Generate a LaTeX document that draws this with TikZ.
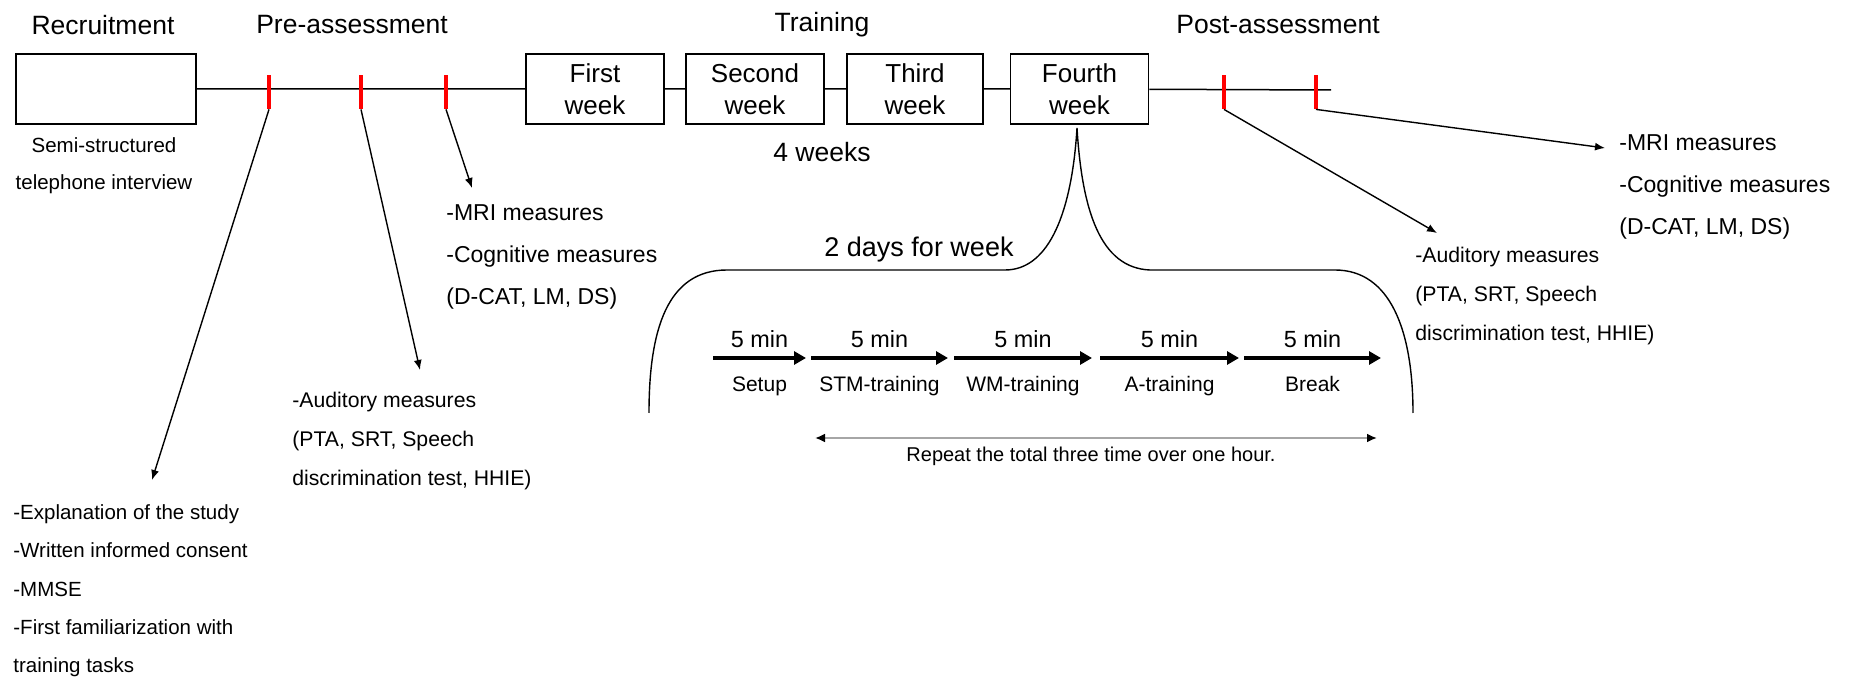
\documentclass[tikz,border=0pt]{standalone}
\usepackage{fontspec}
\setmainfont{Liberation Sans}
\usetikzlibrary{arrows.meta, positioning}

\begin{document}
\begin{tikzpicture}[x=0.5pt, y=-0.5pt,
  head/.style={font=\fontsize{13.25}{16}\selectfont},
  week/.style={draw,line width=0.75pt,minimum width=69pt,minimum height=35pt,
              align=center,inner sep=0pt,font=\fontsize{13}{16}\selectfont},
  tick/.style={fill=red,inner sep=0pt,minimum width=2pt,minimum height=17pt},
  txt/.style={align=left,anchor=north west,inner sep=0pt},
  arr/.style={-{Latex[length=5pt,width=4pt]},line width=0.7pt},
  steparr/.style={-{Triangle[length=6pt,width=6.5pt]},line width=2pt}
]
\useasboundingbox (0,0) rectangle (1854,678);
% phases
\node[head] (rec)  at (103,25)  {Recruitment};
\node[head] (pre)  at (352,25)  {Pre-assessment};
\node[head] (trn)  at (822,25)  {Training};
\node[head] (post) at (1278,25) {Post-assessment};
% time line
\node[week,minimum width=90pt] (rbox) at (106,89) {};
\node[week] (w1) at (595,89)    {First\\week};
\node[week] (w2) at (755,89)    {Second\\week};
\node[week,minimum width=68pt] (w3) at (915,89) {Third\\week};
\node[week] (w4) at (1079.5,89) {Fourth\\week};
\coordinate (lend) at (1331,90);
\draw[line width=0.75pt] (rbox)--(w1) (w1)--(w2) (w2)--(w3) (w3)--(w4) (w4)--(lend);
\foreach \x/\n in {269/t1,361/t2,446/t3,1224/t4,1316/t5}
  \node[tick] (\n) at (\x,92) {};
\node[head] (four) at (822,152) {4 weeks};
\node[align=center,anchor=north,inner sep=0pt,font=\fontsize{10.25}{18.5}\selectfont]
  (semi) at (104,137) {Semi-structured\\telephone interview};
% measures
\node[txt,font=\fontsize{10.25}{19.2}\selectfont] (expl) at (13,504)
  {-Explanation of the study\\-Written informed consent\\-MMSE\\-First familiarization with\\training tasks};
\node[txt,font=\fontsize{10.6}{19.5}\selectfont] (aud1) at (292,392)
  {-Auditory measures\\(PTA, SRT, Speech\\discrimination test, HHIE)};
\node[txt,font=\fontsize{11.5}{21}\selectfont] (mri1) at (446,204)
  {-MRI measures\\-Cognitive measures\\(D-CAT, LM, DS)};
\node[txt,font=\fontsize{10.6}{19.5}\selectfont] (aud2) at (1415,247)
  {-Auditory measures\\(PTA, SRT, Speech\\discrimination test, HHIE)};
\node[txt,font=\fontsize{11.5}{21}\selectfont] (mri2) at (1619,134)
  {-MRI measures\\-Cognitive measures\\(D-CAT, LM, DS)};
\coordinate (e1) at (152,480);
\coordinate (e2) at (420,370);
\coordinate (e3) at (472,188);
\coordinate (e4) at (1437,233);
\coordinate (e5) at (1605,148);
\draw[arr] (t1.south)--(e1);
\draw[arr] (t2.south)--(e2);
\draw[arr] (t3.south)--(e3);
\draw[arr] (t4.south)--(e4);
\draw[arr] (t5.south)--(e5);
% one training day
\coordinate (cusp) at (1077,128);
\draw[line width=0.7pt] (649,413) .. controls (649,330) and (667,270) .. (727,270) -- (1005,270)
  .. controls (1050,270) and (1072,210) .. (cusp)
  .. controls (1082,210) and (1100,268) .. (1150,270) -- (1335,270)
  .. controls (1390,270) and (1413,330) .. (1413,413);
\node[font=\fontsize{13.5}{16}\selectfont] (days) at (919,250) {2 days for week};
\foreach \a/\b/\s [count=\i] in {713/806/Setup,811/948/STM-training,954/1092/WM-training,
                                 1100/1239/A-training,1244/1381/Break}{
  \coordinate (p\i) at (\a,358); \coordinate (q\i) at (\b,358);
  \draw[steparr] (p\i)--(q\i)
    node[midway,above=1pt,font=\fontsize{11.7}{14}\selectfont] (m\i) {5 min}
    node[midway,below=5pt,font=\fontsize{10.5}{13}\selectfont] (s\i) {\s};
}
\coordinate (r1) at (815,438); \coordinate (r2) at (1377,438);
\draw[{Latex[black,length=5pt,width=4.5pt]}-{Latex[black,length=5pt,width=4.5pt]},
      gray!70,line width=1.3pt] (r1)--(r2);
\node[font=\fontsize{10}{12}\selectfont] (rep) at (1091,456) {Repeat the total three time over one hour.};
\end{tikzpicture}
\end{document}
